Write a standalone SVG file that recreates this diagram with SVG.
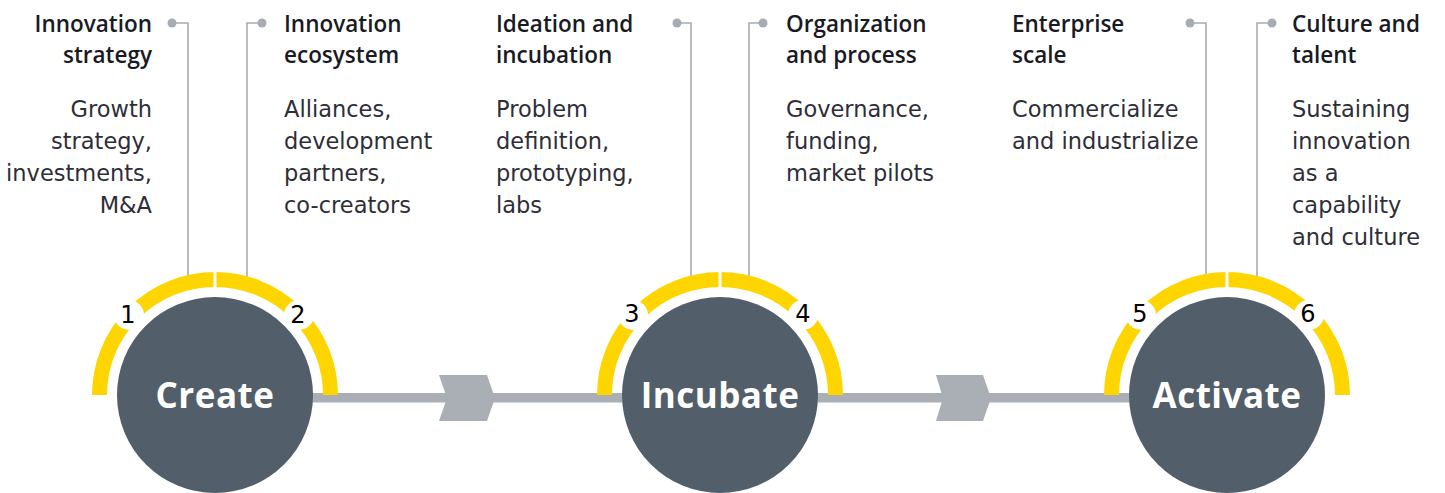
<svg xmlns="http://www.w3.org/2000/svg" width="1445" height="493" viewBox="0 0 1445 493">
<style>
.hd{font-family:"Open Sans","Liberation Sans",sans-serif;font-weight:600;font-size:22.5px;fill:#1A1A24}
.bd{font-family:"DejaVu Sans","Liberation Sans",sans-serif;font-size:22.5px;fill:#2E2E38}
.end{text-anchor:end}
.lead{fill:none;stroke:#A7ACB2;stroke-width:1.6}
.dot{fill:#A7ACB2}
.body{fill:#525E6A}
.ring{fill:none;stroke:#FFD500;stroke-width:15}
.cut{fill:#FFFFFF}
.num{font-family:"DejaVu Sans","Liberation Sans",sans-serif;font-size:24px;fill:#000;text-anchor:middle}
.lbl{font-family:"Open Sans","Liberation Sans",sans-serif;font-weight:700;font-size:35px;fill:#FFFFFF;text-anchor:middle;letter-spacing:0.5px}
.bar{fill:#A9AFB4}
</style>
<rect width="1445" height="493" fill="#FFFFFF"/>
<g id="connectors">
  <rect class="bar" x="215" y="393" width="1012" height="9.5"/>
  <polygon class="bar" points="439,375 487,375 495,398 487,421 439,421 447,398"/>
  <polygon class="bar" points="936,375 983,375 991,398 983,421 936,421 943,398"/>
  <path class="lead" d="M172,23 H188 V277"/>
  <path class="lead" d="M262,23 H247 V277"/>
  <path class="lead" d="M677,23 H691 V277"/>
  <path class="lead" d="M763,23 H749 V277"/>
  <path class="lead" d="M1190,23 H1206 V277"/>
  <path class="lead" d="M1272,23 H1257 V277"/>
  <circle class="dot" cx="172" cy="23" r="4.5"/>
  <circle class="dot" cx="262" cy="23" r="4.5"/>
  <circle class="dot" cx="677" cy="23" r="4.5"/>
  <circle class="dot" cx="763" cy="23" r="4.5"/>
  <circle class="dot" cx="1190" cy="23" r="4.5"/>
  <circle class="dot" cx="1272" cy="23" r="4.5"/>
</g>
<g id="stage-create">
  <path class="ring" d="M99.5,395 A115.5,115.5 0 0 1 330.5,395"/>
  <rect class="cut" x="213.5" y="268" width="3" height="30"/>
  <circle class="cut" cx="129" cy="315" r="15"/>
  <circle class="cut" cx="299" cy="315" r="15"/>
  <text class="num" x="128" y="323">1</text>
  <text class="num" x="298" y="323">2</text>
  <circle class="body" cx="215" cy="395" r="98"/>
  <text class="lbl" x="215" y="408">Create</text>
</g>
<g id="stage-incubate">
  <path class="ring" d="M604.5,395 A115.5,115.5 0 0 1 835.5,395"/>
  <rect class="cut" x="718.5" y="268" width="3" height="30"/>
  <circle class="cut" cx="633" cy="315" r="15"/>
  <circle class="cut" cx="803" cy="315" r="15"/>
  <text class="num" x="632" y="322">3</text>
  <text class="num" x="803" y="322">4</text>
  <circle class="body" cx="720" cy="395" r="98"/>
  <text class="lbl" x="720" y="408">Incubate</text>
</g>
<g id="stage-activate">
  <path class="ring" d="M1111.5,395 A115.5,115.5 0 0 1 1342.5,395"/>
  <rect class="cut" x="1225.5" y="268" width="3" height="30"/>
  <circle class="cut" cx="1141" cy="315" r="15"/>
  <circle class="cut" cx="1309" cy="315" r="15"/>
  <text class="num" x="1140" y="322">5</text>
  <text class="num" x="1308" y="322">6</text>
  <circle class="body" cx="1227" cy="395" r="98"/>
  <text class="lbl" x="1227" y="408">Activate</text>
</g>
<g id="item-1">
  <text class="hd end" x="152" y="32">Innovation</text>
  <text class="hd end" x="152" y="63">strategy</text>
  <text class="bd end" x="152" y="117">Growth</text>
  <text class="bd end" x="152" y="149">strategy,</text>
  <text class="bd end" x="152" y="181">investments,</text>
  <text class="bd end" x="152" y="213">M&amp;A</text>
</g>
<g id="item-2">
  <text class="hd" x="284" y="32">Innovation</text>
  <text class="hd" x="284" y="63">ecosystem</text>
  <text class="bd" x="284" y="117">Alliances,</text>
  <text class="bd" x="284" y="149">development</text>
  <text class="bd" x="284" y="181">partners,</text>
  <text class="bd" x="284" y="213">co-creators</text>
</g>
<g id="item-3">
  <text class="hd" x="496" y="32">Ideation and</text>
  <text class="hd" x="496" y="63">incubation</text>
  <text class="bd" x="496" y="117">Problem</text>
  <text class="bd" x="496" y="149">definition,</text>
  <text class="bd" x="496" y="181">prototyping,</text>
  <text class="bd" x="496" y="213">labs</text>
</g>
<g id="item-4">
  <text class="hd" x="786" y="32">Organization</text>
  <text class="hd" x="786" y="63">and process</text>
  <text class="bd" x="786" y="117">Governance,</text>
  <text class="bd" x="786" y="149">funding,</text>
  <text class="bd" x="786" y="181">market pilots</text>
</g>
<g id="item-5">
  <text class="hd" x="1012" y="32">Enterprise</text>
  <text class="hd" x="1012" y="63">scale</text>
  <text class="bd" x="1012" y="117">Commercialize</text>
  <text class="bd" x="1012" y="149">and industrialize</text>
</g>
<g id="item-6">
  <text class="hd" x="1292" y="32">Culture and</text>
  <text class="hd" x="1292" y="63">talent</text>
  <text class="bd" x="1292" y="117">Sustaining</text>
  <text class="bd" x="1292" y="149">innovation</text>
  <text class="bd" x="1292" y="181">as a</text>
  <text class="bd" x="1292" y="213">capability</text>
  <text class="bd" x="1292" y="245">and culture</text>
</g>
</svg>
